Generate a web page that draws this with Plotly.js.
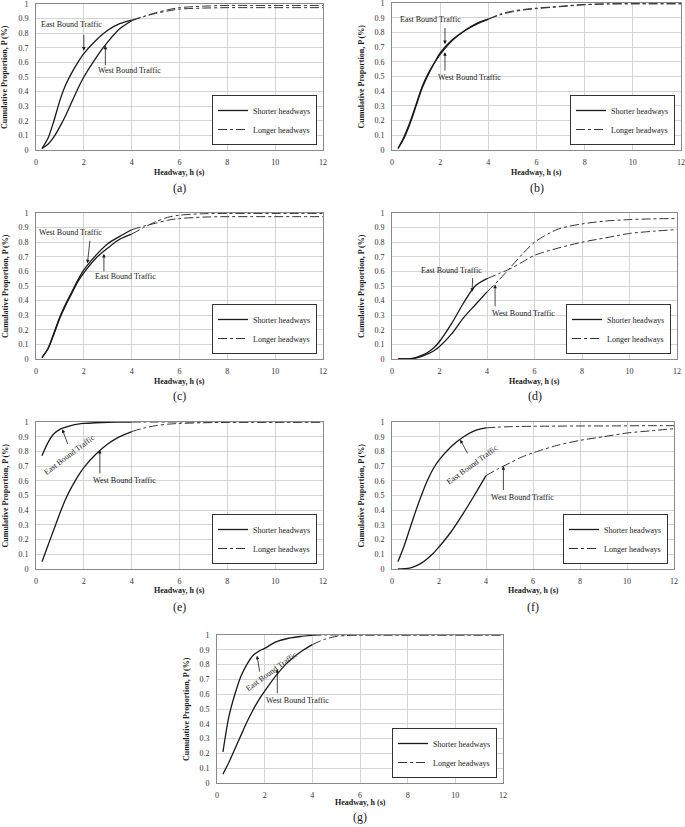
<!DOCTYPE html>
<html><head><meta charset="utf-8">
<script src="https://cdn.plot.ly/plotly-3.0.1.min.js"></script>
<style>html,body{margin:0;padding:0;background:#fff}</style>
</head><body><div id="chart" style="width:685px;height:827px"></div>
<script>
// ---------- data ----------
const shortX = [0.25,0.5,0.75,1,1.25,1.5,1.75,2,2.5,3,3.5,4];
const longX  = [4,4.5,5,5.5,6,7,8,9,10,11,12];

const aEastShort = [0.01,0.08,0.20,0.34,0.45,0.53,0.60,0.66,0.75,0.82,0.865,0.89];
const aWestShort = [0.01,0.04,0.09,0.16,0.24,0.33,0.42,0.50,0.63,0.74,0.83,0.885];
const aEastLong  = [0.89,0.915,0.94,0.96,0.975,0.985,0.99,0.99,0.99,0.99,0.99];
const aWestLong  = [0.885,0.913,0.935,0.952,0.965,0.972,0.975,0.975,0.975,0.975,0.975];

const bEastShort = [0.01,0.09,0.19,0.31,0.43,0.52,0.59,0.66,0.75,0.81,0.86,0.89];
const bWestShort = [0.01,0.08,0.18,0.30,0.42,0.51,0.59,0.65,0.745,0.81,0.855,0.89];
const bEastLong  = [0.89,0.925,0.945,0.957,0.965,0.978,0.99,0.995,0.995,0.995,0.995];
const bWestLong  = [0.89,0.92,0.94,0.953,0.962,0.975,0.988,0.993,0.995,0.995,0.995];

const cEastShort = [0.01,0.07,0.17,0.28,0.37,0.45,0.53,0.59,0.69,0.76,0.82,0.855];
const cWestShort = [0.01,0.07,0.18,0.29,0.38,0.46,0.54,0.61,0.71,0.79,0.84,0.885];
const cEastLong  = [0.855,0.90,0.94,0.97,0.985,0.995,0.997,0.997,0.997,0.997,0.997];
const cWestLong  = [0.885,0.91,0.93,0.95,0.962,0.972,0.975,0.975,0.975,0.975,0.975];

const dEastShort = [0,0,0.002,0.01,0.025,0.045,0.075,0.12,0.24,0.38,0.50,0.55];
const dWestShort = [0,0,0.002,0.006,0.018,0.035,0.055,0.085,0.17,0.28,0.37,0.46];
const dEastLong  = [0.55,0.585,0.62,0.665,0.71,0.76,0.80,0.83,0.86,0.875,0.887];
const dWestLong  = [0.46,0.54,0.63,0.72,0.80,0.89,0.925,0.945,0.955,0.96,0.962];

const eEastShort = [0.77,0.86,0.92,0.95,0.965,0.977,0.985,0.99,0.995,0.998,0.999,1];
const eWestShort = [0.05,0.16,0.27,0.38,0.48,0.56,0.63,0.69,0.78,0.85,0.90,0.935];
const eEastLong  = [1,1,1,1,1,1,1,1,1,1,1];
const eWestLong  = [0.935,0.958,0.975,0.985,0.99,0.995,0.997,0.998,0.998,0.998,0.998];

const fEastShort = [0.05,0.15,0.27,0.39,0.50,0.60,0.68,0.74,0.83,0.895,0.94,0.96];
const fWestShort = [0,0.002,0.006,0.02,0.04,0.07,0.105,0.15,0.25,0.37,0.50,0.635];
const fEastLong  = [0.96,0.965,0.968,0.97,0.971,0.972,0.973,0.973,0.974,0.975,0.975];
const fWestLong  = [0.635,0.68,0.72,0.76,0.79,0.84,0.875,0.90,0.925,0.94,0.955];

const gEastShort = [0.21,0.45,0.60,0.72,0.80,0.86,0.89,0.91,0.955,0.978,0.99,0.997];
const gWestShort = [0.06,0.14,0.23,0.32,0.41,0.49,0.56,0.62,0.73,0.82,0.885,0.935];
const gEastLong  = [0.997,1,1,1,1,1,1,1,1,1,1];
const gWestLong  = [0.935,0.97,0.99,0.997,1,1,1,1,1,1,1];

const panelLabels = ['(a)','(b)','(c)','(d)','(e)','(f)','(g)'];
const xTickVals = [0,2,4,6,8,10,12];
const yTickVals = [0,0.1,0.2,0.3,0.4,0.5,0.6,0.7,0.8,0.9,1];
const xTitle = 'Headway, h (s)';
const yTitle = 'Cumulative Proportion, P (%)';
const legendNames = ['Shorter headways','Longer headways'];
const eastName = 'East Bound Traffic';
const westName = 'West Bound Traffic';

// ---------- layout ----------
const W = 685, H = 827;
const FONT = 'Liberation Serif, Times New Roman, serif';
const INK = '#1a1a1a';
const panels = [
  {box:{l:36,r:323,t:4,b:150},   es:aEastShort, ws:aWestShort, el:aEastLong, wl:aWestLong, xt:172, cap:188,
   labels:[{t:eastName,x:1.49,y:0.857,a:0},{t:westName,x:3.89,y:0.544,a:0}],
   arrows:[[2.0,0.80,2.0,0.68],[2.9,0.57,2.9,0.715]]},
  {box:{l:392,r:681,t:3,b:150},  es:bEastShort, ws:bWestShort, el:bEastLong, wl:bWestLong, xt:172, cap:188,
   labels:[{t:eastName,x:1.6,y:0.887,a:0},{t:westName,x:3.23,y:0.494,a:0}],
   arrows:[[2.2,0.84,2.2,0.72],[2.2,0.53,2.2,0.665]]},
  {box:{l:36,r:323,t:213,b:359}, es:cEastShort, ws:cWestShort, el:cEastLong, wl:cWestLong, xt:381, cap:396,
   labels:[{t:westName,x:1.46,y:0.865,a:0},{t:eastName,x:3.76,y:0.566,a:0}],
   arrows:[[2.26,0.82,2.15,0.655],[2.84,0.59,2.84,0.72]]},
  {box:{l:392,r:677,t:213,b:359},es:dEastShort, ws:dWestShort, el:dEastLong, wl:dWestLong, xt:381, cap:396,
   labels:[{t:eastName,x:2.5,y:0.606,a:0},{t:westName,x:5.52,y:0.31,a:0}],
   arrows:[[3.4,0.565,3.37,0.46],[4.34,0.35,4.34,0.51]]},
  {box:{l:36,r:323,t:422,b:569}, es:eEastShort, ws:eWestShort, el:eEastLong, wl:eWestLong, xt:590, cap:607,
   labels:[{t:eastName,x:1.42,y:0.776,a:-37},{t:westName,x:3.68,y:0.60,a:0}],
   arrows:[[1.35,0.84,1.1,0.95],[2.67,0.64,2.67,0.81]]},
  {box:{l:392,r:674,t:422,b:569},es:fEastShort, ws:fWestShort, el:fEastLong, wl:fWestLong, xt:590, cap:607,
   labels:[{t:eastName,x:3.44,y:0.708,a:-36},{t:westName,x:5.56,y:0.489,a:0}],
   arrows:[[3.25,0.776,2.9,0.88],[4.74,0.527,4.74,0.70]]},
  {box:{l:217,r:503,t:635,b:783},es:gEastShort, ws:gWestShort, el:gEastLong, wl:gWestLong, xt:802, cap:817,
   labels:[{t:eastName,x:2.29,y:0.753,a:-36},{t:westName,x:3.38,y:0.56,a:0}],
   arrows:[[1.8,0.742,1.68,0.86],[2.53,0.596,2.53,0.77]]}
];

const px = v => v / W;
const py = v => 1 - v / H;

const traces = [];
const layout = {
  width: W, height: H,
  margin: {l:0, r:0, t:0, b:0},
  paper_bgcolor: '#fff', plot_bgcolor: '#fff',
  font: {family: FONT, size: 8, color: INK},
  annotations: [],
  showlegend: true
};

panels.forEach((p, i) => {
  const n = i + 1;
  const xa = n === 1 ? 'xaxis' : 'xaxis' + n;
  const ya = n === 1 ? 'yaxis' : 'yaxis' + n;
  const xr = n === 1 ? 'x' : 'x' + n;
  const yr = n === 1 ? 'y' : 'y' + n;
  const lg = n === 1 ? 'legend' : 'legend' + n;
  const b = p.box;

  layout[xa] = {
    domain: [px(b.l), px(b.r)], anchor: yr, range: [0, 12],
    tickvals: xTickVals, showgrid: true, gridcolor: '#d4d4d4', gridwidth: 1,
    showline: true, linecolor: '#8a8a8a', linewidth: 1, mirror: true,
    ticks: '', zeroline: false, ticklabelstandoff: 4, ticklabeloverflow: 'allow',
    tickfont: {family: FONT, size: 8, color: '#333'}
  };
  layout[ya] = {
    domain: [py(b.b), py(b.t)], anchor: xr, range: [0, 1],
    tickvals: yTickVals, showgrid: true, gridcolor: '#d4d4d4', gridwidth: 1,
    showline: true, linecolor: '#8a8a8a', linewidth: 1, mirror: true,
    ticks: '', zeroline: false, ticklabelstandoff: 5, ticklabeloverflow: 'allow',
    tickfont: {family: FONT, size: 8, color: '#333'}
  };

  const common = {type: 'scatter', mode: 'lines', xaxis: xr, yaxis: yr, legend: lg};
  traces.push(Object.assign({}, common, {x: shortX, y: p.es, name: legendNames[0], showlegend: true,
    line: {color: INK, width: 1.3, shape: 'spline', smoothing: 0.8}}));
  traces.push(Object.assign({}, common, {x: shortX, y: p.ws, name: legendNames[0], showlegend: false,
    line: {color: INK, width: 1.3, shape: 'spline', smoothing: 0.8}}));
  traces.push(Object.assign({}, common, {x: longX, y: p.el, name: legendNames[1], showlegend: true,
    line: {color: '#333', width: 1, dash: 'dashdot', shape: 'spline', smoothing: 0.8}}));
  traces.push(Object.assign({}, common, {x: longX, y: p.wl, name: legendNames[1], showlegend: false,
    line: {color: '#333', width: 1, dash: 'dashdot', shape: 'spline', smoothing: 0.8}}));

  layout[lg] = {
    x: px(b.r - 6), y: py(b.b - 5), xanchor: 'right', yanchor: 'bottom',
    xref: 'paper', yref: 'paper',
    bgcolor: '#fff', bordercolor: '#333', borderwidth: 1,
    font: {family: FONT, size: 8, color: INK},
    itemwidth: 30, tracegroupgap: 0, traceorder: 'normal'
  };

  // axis titles and caption
  const cx = (b.l + b.r) / 2, cy = (b.t + b.b) / 2;
  layout.annotations.push({xref: 'paper', yref: 'paper', x: px(cx), y: py(p.xt),
    text: xTitle, showarrow: false, xanchor: 'center', yanchor: 'middle',
    font: {family: FONT, size: 8, color: INK, weight: 'bold'}});
  layout.annotations.push({xref: 'paper', yref: 'paper', x: px(b.l - 31), y: py(cy),
    text: yTitle, showarrow: false, textangle: -90, xanchor: 'center', yanchor: 'middle',
    font: {family: FONT, size: 8, color: INK, weight: 'bold'}});
  layout.annotations.push({xref: 'paper', yref: 'paper', x: px(cx), y: py(p.cap),
    text: panelLabels[i], showarrow: false, xanchor: 'center', yanchor: 'middle',
    font: {family: FONT, size: 12, color: INK}});

  // traffic labels
  p.labels.forEach(l => {
    layout.annotations.push({xref: xr, yref: yr, x: l.x, y: l.y, text: l.t, showarrow: false,
      textangle: l.a, xanchor: 'center', yanchor: 'middle',
      font: {family: FONT, size: 8, color: INK}});
  });
  p.arrows.forEach(a => {
    layout.annotations.push({xref: xr, yref: yr, axref: xr, ayref: yr,
      ax: a[0], ay: a[1], x: a[2], y: a[3], text: '', showarrow: true,
      arrowhead: 2, arrowsize: 0.9, arrowwidth: 0.8, arrowcolor: INK, standoff: 0, startstandoff: 0});
  });
});

Plotly.newPlot('chart', traces, layout, {displayModeBar: false, staticPlot: true});
</script>
</body></html>
